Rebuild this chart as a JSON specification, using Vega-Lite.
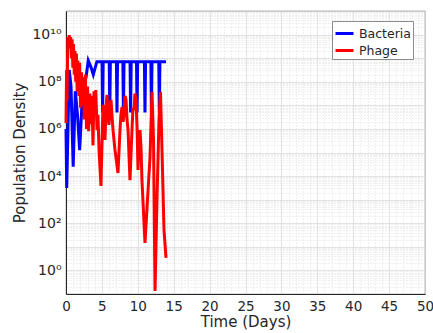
{
  "$schema": "https://vega.github.io/schema/vega-lite/v6.json",
  "width": 359,
  "height": 283,
  "autosize": {"type": "none"},
  "padding": {"left": 66, "top": 11, "right": 8, "bottom": 39},
  "background": "white",
  "config": {
    "font": "DejaVu Sans",
    "view": {"stroke": "#262626", "strokeWidth": 0.8},
    "axis": {"labelFont": "DejaVu Sans", "titleFont": "DejaVu Sans", "labelColor": "#262626", "titleColor": "#262626", "titleFontWeight": "normal"}
  },
  "data": {"values": [
    {"series": "Bacteria", "t": 0, "v": 1e6},
    {"series": "Bacteria", "t": 0.1, "v": 3.16e3},
    {"series": "Bacteria", "t": 0.45, "v": 3.16e8},
    {"series": "Bacteria", "t": 0.7, "v": 6.31e7},
    {"series": "Bacteria", "t": 1.0, "v": 2.51e4},
    {"series": "Bacteria", "t": 1.3, "v": 3.98e7},
    {"series": "Bacteria", "t": 1.6, "v": 3.98e6},
    {"series": "Bacteria", "t": 1.9, "v": 1.26e5},
    {"series": "Bacteria", "t": 2.3, "v": 3.16e7},
    {"series": "Bacteria", "t": 2.8, "v": 1.58e8},
    {"series": "Bacteria", "t": 3.1, "v": 7.94e8},
    {"series": "Bacteria", "t": 3.5, "v": 3.98e8},
    {"series": "Bacteria", "t": 3.8, "v": 2.0e8},
    {"series": "Bacteria", "t": 4.3, "v": 7.08e8},
    {"series": "Bacteria", "t": 5.02, "v": 7.08e8},
    {"series": "Bacteria", "t": 5.1, "v": 5.0e6},
    {"series": "Bacteria", "t": 5.18, "v": 7.08e8},
    {"series": "Bacteria", "t": 6.02, "v": 7.08e8},
    {"series": "Bacteria", "t": 6.1, "v": 5.0e6},
    {"series": "Bacteria", "t": 6.18, "v": 7.08e8},
    {"series": "Bacteria", "t": 7.02, "v": 7.08e8},
    {"series": "Bacteria", "t": 7.1, "v": 5.0e6},
    {"series": "Bacteria", "t": 7.18, "v": 7.08e8},
    {"series": "Bacteria", "t": 7.92, "v": 7.08e8},
    {"series": "Bacteria", "t": 8.0, "v": 5.0e6},
    {"series": "Bacteria", "t": 8.08, "v": 7.08e8},
    {"series": "Bacteria", "t": 8.92, "v": 7.08e8},
    {"series": "Bacteria", "t": 9.0, "v": 5.0e6},
    {"series": "Bacteria", "t": 9.08, "v": 7.08e8},
    {"series": "Bacteria", "t": 9.82, "v": 7.08e8},
    {"series": "Bacteria", "t": 9.9, "v": 5.0e6},
    {"series": "Bacteria", "t": 9.98, "v": 7.08e8},
    {"series": "Bacteria", "t": 10.92, "v": 7.08e8},
    {"series": "Bacteria", "t": 11.0, "v": 5.0e6},
    {"series": "Bacteria", "t": 11.08, "v": 7.08e8},
    {"series": "Bacteria", "t": 11.82, "v": 7.08e8},
    {"series": "Bacteria", "t": 11.9, "v": 5.0e6},
    {"series": "Bacteria", "t": 11.98, "v": 7.08e8},
    {"series": "Bacteria", "t": 12.92, "v": 7.08e8},
    {"series": "Bacteria", "t": 13.0, "v": 5.0e6},
    {"series": "Bacteria", "t": 13.08, "v": 7.08e8},
    {"series": "Bacteria", "t": 13.93, "v": 7.08e8},
    {"series": "Phage", "t": 0, "v": 1.78e6},
    {"series": "Phage", "t": 0.08, "v": 3.16e8},
    {"series": "Phage", "t": 0.15, "v": 1.58e7},
    {"series": "Phage", "t": 0.25, "v": 7.94e9},
    {"series": "Phage", "t": 0.35, "v": 3.16e9},
    {"series": "Phage", "t": 0.45, "v": 9.55e9},
    {"series": "Phage", "t": 0.55, "v": 2.51e9},
    {"series": "Phage", "t": 0.65, "v": 7.94e9},
    {"series": "Phage", "t": 0.75, "v": 1e9},
    {"series": "Phage", "t": 0.85, "v": 6.31e9},
    {"series": "Phage", "t": 0.95, "v": 3.98e8},
    {"series": "Phage", "t": 1.05, "v": 3.98e9},
    {"series": "Phage", "t": 1.15, "v": 2.0e8},
    {"series": "Phage", "t": 1.25, "v": 2.0e9},
    {"series": "Phage", "t": 1.35, "v": 1e8},
    {"series": "Phage", "t": 1.45, "v": 1.58e9},
    {"series": "Phage", "t": 1.55, "v": 3.98e7},
    {"series": "Phage", "t": 1.65, "v": 7.94e8},
    {"series": "Phage", "t": 1.78, "v": 2.51e7},
    {"series": "Phage", "t": 1.9, "v": 6.31e8},
    {"series": "Phage", "t": 2.02, "v": 7.94e6},
    {"series": "Phage", "t": 2.15, "v": 2.51e8},
    {"series": "Phage", "t": 2.3, "v": 1e7},
    {"series": "Phage", "t": 2.42, "v": 1.58e8},
    {"series": "Phage", "t": 2.55, "v": 2.51e6},
    {"series": "Phage", "t": 2.7, "v": 2e8},
    {"series": "Phage", "t": 2.85, "v": 1e6},
    {"series": "Phage", "t": 3.0, "v": 6.31e7},
    {"series": "Phage", "t": 3.15, "v": 7.94e5},
    {"series": "Phage", "t": 3.3, "v": 3.16e7},
    {"series": "Phage", "t": 3.45, "v": 1.58e6},
    {"series": "Phage", "t": 3.6, "v": 2.51e7},
    {"series": "Phage", "t": 3.76, "v": 2.0e5},
    {"series": "Phage", "t": 3.9, "v": 3.98e7},
    {"series": "Phage", "t": 4.04, "v": 6.31e6},
    {"series": "Phage", "t": 4.15, "v": 4.47e7},
    {"series": "Phage", "t": 4.32, "v": 8.91e5},
    {"series": "Phage", "t": 4.45, "v": 3.98e6},
    {"series": "Phage", "t": 4.6, "v": 1.29e5},
    {"series": "Phage", "t": 4.87, "v": 3.8e3},
    {"series": "Phage", "t": 5.15, "v": 1.05e7},
    {"series": "Phage", "t": 5.3, "v": 3.98e6},
    {"series": "Phage", "t": 5.43, "v": 3.39e5},
    {"series": "Phage", "t": 5.57, "v": 7.94e6},
    {"series": "Phage", "t": 5.71, "v": 2.75e7},
    {"series": "Phage", "t": 5.85, "v": 3.16e6},
    {"series": "Phage", "t": 5.99, "v": 1.48e6},
    {"series": "Phage", "t": 6.12, "v": 7.94e6},
    {"series": "Phage", "t": 6.27, "v": 1.7e7},
    {"series": "Phage", "t": 6.4, "v": 3.98e6},
    {"series": "Phage", "t": 6.55, "v": 8.91e5},
    {"series": "Phage", "t": 6.82, "v": 1.29e5},
    {"series": "Phage", "t": 7.24, "v": 1.35e4},
    {"series": "Phage", "t": 7.52, "v": 8.91e5},
    {"series": "Phage", "t": 7.65, "v": 3.98e6},
    {"series": "Phage", "t": 7.8, "v": 8.51e6},
    {"series": "Phage", "t": 7.95, "v": 2.0e6},
    {"series": "Phage", "t": 8.08, "v": 3.89e6},
    {"series": "Phage", "t": 8.22, "v": 2.51e7},
    {"series": "Phage", "t": 8.36, "v": 1.7e7},
    {"series": "Phage", "t": 8.5, "v": 2.51e6},
    {"series": "Phage", "t": 8.64, "v": 8.91e5},
    {"series": "Phage", "t": 8.91, "v": 6.76e3},
    {"series": "Phage", "t": 9.19, "v": 8.91e5},
    {"series": "Phage", "t": 9.33, "v": 7.94e6},
    {"series": "Phage", "t": 9.47, "v": 6.31e6},
    {"series": "Phage", "t": 9.6, "v": 3.16e7},
    {"series": "Phage", "t": 9.75, "v": 1.7e7},
    {"series": "Phage", "t": 9.9, "v": 1e6},
    {"series": "Phage", "t": 10.03, "v": 1.82e4},
    {"series": "Phage", "t": 10.17, "v": 3.98e5},
    {"series": "Phage", "t": 10.31, "v": 8.91e5},
    {"series": "Phage", "t": 10.45, "v": 1.58e5},
    {"series": "Phage", "t": 10.58, "v": 6.76e3},
    {"series": "Phage", "t": 11.0, "v": 14.5},
    {"series": "Phage", "t": 11.35, "v": 977},
    {"series": "Phage", "t": 11.7, "v": 6.46e4},
    {"series": "Phage", "t": 11.98, "v": 3.72e7},
    {"series": "Phage", "t": 12.19, "v": 3.39e5},
    {"series": "Phage", "t": 12.4, "v": 0.135},
    {"series": "Phage", "t": 12.67, "v": 977},
    {"series": "Phage", "t": 12.95, "v": 2.4e6},
    {"series": "Phage", "t": 13.16, "v": 3.72e7},
    {"series": "Phage", "t": 13.37, "v": 1.29e5},
    {"series": "Phage", "t": 13.65, "v": 51.3},
    {"series": "Phage", "t": 13.93, "v": 3.39}
  ]},
  "layer": [
    {
      "mark": {"type": "line", "opacity": 0},
      "encoding": {
        "x": {"field": "t", "type": "quantitative", "scale": {"domain": [0, 50], "nice": false},
          "axis": {"orient": "top", "values": [1,2,3,4,6,7,8,9,11,12,13,14,16,17,18,19,21,22,23,24,26,27,28,29,31,32,33,34,36,37,38,39,41,42,43,44,46,47,48,49],
            "grid": true, "gridColor": "#d9d9d9", "gridDash": [1, 2], "gridWidth": 0.8, "labels": false, "ticks": false, "domain": false, "title": null}},
        "y": {"field": "v", "type": "quantitative", "scale": {"type": "log", "domain": [0.1, 1e11], "nice": false},
          "axis": {"orient": "right", "values": [2e-1,3e-1,4e-1,5e-1,6e-1,7e-1,8e-1,9e-1,2,3,4,5,6,7,8,9,2e1,3e1,4e1,5e1,6e1,7e1,8e1,9e1,2e2,3e2,4e2,5e2,6e2,7e2,8e2,9e2,2e3,3e3,4e3,5e3,6e3,7e3,8e3,9e3,2e4,3e4,4e4,5e4,6e4,7e4,8e4,9e4,2e5,3e5,4e5,5e5,6e5,7e5,8e5,9e5,2e6,3e6,4e6,5e6,6e6,7e6,8e6,9e6,2e7,3e7,4e7,5e7,6e7,7e7,8e7,9e7,2e8,3e8,4e8,5e8,6e8,7e8,8e8,9e8,2e9,3e9,4e9,5e9,6e9,7e9,8e9,9e9,2e10,3e10,4e10,5e10,6e10,7e10,8e10,9e10],
            "grid": true, "gridColor": "#d9d9d9", "gridDash": [1, 2], "gridWidth": 0.8, "labels": false, "ticks": false, "domain": false, "title": null}}
      }
    },
    {
      "mark": {"type": "line", "strokeWidth": 3, "interpolate": "linear"},
      "encoding": {
        "x": {"field": "t", "type": "quantitative", "scale": {"domain": [0, 50], "nice": false},
          "axis": {"orient": "bottom", "values": [0,5,10,15,20,25,30,35,40,45,50], "grid": true, "gridColor": "#dcdcdc", "gridWidth": 0.8,
            "ticks": false, "labelPadding": 5, "labelFontSize": 13.5, "title": "Time (Days)", "titleFontSize": 15, "titlePadding": 2,
            "domainColor": "#262626", "labelFlush": false}},
        "y": {"field": "v", "type": "quantitative", "scale": {"type": "log", "domain": [0.1, 1e11], "nice": false},
          "axis": {"orient": "left", "values": [1e-1,1,1e1,1e2,1e3,1e4,1e5,1e6,1e7,1e8,1e9,1e10,1e11], "grid": true, "gridColor": "#dcdcdc", "gridWidth": 0.8,
            "ticks": false, "labelPadding": 5, "labelFontSize": 14,
            "labelExpr": "round(log(datum.value)/LN10) == 0 ? '10⁰' : round(log(datum.value)/LN10) == 2 ? '10²' : round(log(datum.value)/LN10) == 4 ? '10⁴' : round(log(datum.value)/LN10) == 6 ? '10⁶' : round(log(datum.value)/LN10) == 8 ? '10⁸' : round(log(datum.value)/LN10) == 10 ? '10¹⁰' : ''",
            "title": "Population Density", "titleFontSize": 15, "titlePadding": 4, "domainColor": "#262626", "labelFlush": false}},
        "color": {"field": "series", "type": "nominal",
          "scale": {"domain": ["Bacteria", "Phage"], "range": ["#0000ff", "#ff0000"]},
          "legend": {"orient": "none", "legendX": 266, "legendY": 10, "title": null, "symbolType": "stroke", "symbolSize": 324,
            "symbolStrokeWidth": 3, "labelFontSize": 12.5, "labelFont": "DejaVu Sans", "labelColor": "#262626", "rowPadding": -2, "padding": 2,
            "labelOffset": 4, "fillColor": "white", "strokeColor": "#8c8c8c"}}
      }
    }
  ],
  "resolve": {"axis": {"x": "independent", "y": "independent"}}
}
